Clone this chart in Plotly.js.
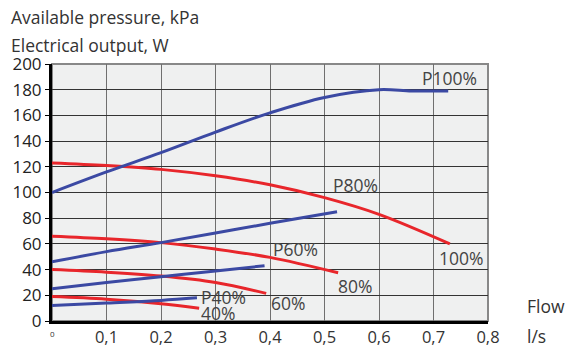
<!DOCTYPE html>
<html><head><meta charset="utf-8">
<script src="https://cdn.plot.ly/plotly-3.0.1.min.js"></script>
<style>html,body{margin:0;padding:0;background:#fff;}#c{width:569px;height:347px;}</style>
</head><body><div id="c"></div>
<script>
// Pressure curves (blue), flow l/s vs kPa
const p100x = [0, 0.1, 0.2, 0.3, 0.4, 0.5, 0.6, 0.66, 0.727];
const p100y = [100, 116, 131, 147, 162, 174, 180, 179, 179];
const p80x = [0, 0.1, 0.2, 0.3, 0.4, 0.523];
const p80y = [46, 54, 61, 68.5, 76, 85];
const p60x = [0, 0.1, 0.2, 0.3, 0.39];
const p60y = [25, 30, 34.5, 39, 43];
const p40x = [0, 0.1, 0.2, 0.266];
const p40y = [12, 14, 16, 18];
// Electrical output curves (red), W
const e100x = [0, 0.1, 0.2, 0.3, 0.4, 0.5, 0.6, 0.73];
const e100y = [123, 121, 118, 113, 106, 96, 83, 60];
const e80x = [0, 0.1, 0.2, 0.3, 0.4, 0.525];
const e80y = [66, 64, 61, 56, 49.5, 37.5];
const e60x = [0, 0.1, 0.2, 0.3, 0.393];
const e60y = [40, 38, 35, 30, 21.5];
const e40x = [0, 0.1, 0.2, 0.27];
const e40y = [19, 17, 13.5, 10];
// Curve labels
const labelText = ["P100%", "100%", "P80%", "80%", "P60%", "60%", "P40%", "40%"];
const labelX = [0.73, 0.752, 0.556, 0.556, 0.446, 0.433, 0.314, 0.305];
const labelY = [189, 49, 106, 27.5, 56, 14, 18.5, 6];
// Axis ticks
const xTickVals = [0, 0.1, 0.2, 0.3, 0.4, 0.5, 0.6, 0.7, 0.8];
const xTickText = ["", "0,1", "0,2", "0,3", "0,4", "0,5", "0,6", "0,7", "0,8"];
const yTickVals = [0, 20, 40, 60, 80, 100, 120, 140, 160, 180, 200];

const BLUE = "#3b49a3", RED = "#e8262b";
const FONT = "Open Sans, Noto Sans, sans-serif";
// plot area in pixels: left 52, right 488, top 64, bottom 321
const PL = 52, PW = 436, PB = 321, PH = 257;
const px = v => (v - PL) / PW, py = v => (PB - v) / PH;
function tr(x, y, c) {
  return {x: x, y: y, type: "scatter", mode: "lines", line: {color: c, width: 3, shape: "spline"}, hoverinfo: "skip", showlegend: false};
}
const data = [
  tr(e100x, e100y, RED), tr(e80x, e80y, RED), tr(e60x, e60y, RED), tr(e40x, e40y, RED),
  tr(p100x, p100y, BLUE), tr(p80x, p80y, BLUE), tr(p60x, p60y, BLUE), tr(p40x, p40y, BLUE)
];
const annotations = labelText.map((t, i) => ({
  x: labelX[i], y: labelY[i], xref: "x", yref: "y", text: t, showarrow: false,
  font: {family: FONT, size: 17.5, color: "#444"}
}));
annotations.push({x: 0, y: 0, xref: "x", yref: "y", text: "0", showarrow: false, yshift: -12, font: {family: FONT, size: 8, color: "#333"}});
const tf = {family: FONT, size: 17.5, color: "#333"};
annotations.push({x: px(9), y: py(17), xref: "paper", yref: "paper", xanchor: "left", yanchor: "middle", text: "Available pressure, kPa", showarrow: false, font: tf});
annotations.push({x: px(9), y: py(45), xref: "paper", yref: "paper", xanchor: "left", yanchor: "middle", text: "Electrical output, W", showarrow: false, font: tf});
annotations.push({x: px(546), y: py(306), xref: "paper", yref: "paper", xanchor: "center", yanchor: "middle", text: "Flow", showarrow: false, font: tf});
annotations.push({x: px(536), y: py(336), xref: "paper", yref: "paper", xanchor: "center", yanchor: "middle", text: "l/s", showarrow: false, font: tf});

const layout = {
  width: 569, height: 347,
  margin: {l: 52, r: 81, t: 64, b: 26, pad: 0},
  paper_bgcolor: "#fff", plot_bgcolor: "#eff0f0",
  xaxis: {range: [0, 0.8], tickvals: xTickVals, ticktext: xTickText, showgrid: true, gridcolor: "#6f6f6f", gridwidth: 1,
          zeroline: false, showline: true, linecolor: "#000", linewidth: 3, ticks: "", ticklabelstandoff: -1,
          tickfont: {family: FONT, size: 16.5, color: "#333"}, fixedrange: true},
  yaxis: {range: [0, 200], tickvals: yTickVals, showgrid: true, gridcolor: "#333", gridwidth: 1,
          zeroline: false, showline: true, linecolor: "#000", linewidth: 3, ticks: "outside", ticklen: 4, tickcolor: "#000", tickwidth: 1,
          tickfont: {family: FONT, size: 17, color: "#222"}, fixedrange: true},
  shapes: [{type: "rect", xref: "paper", yref: "paper", x0: 0, x1: 1, y0: 0, y1: 1, layer: "between", line: {color: "#888", width: 2}}],
  annotations: annotations,
  showlegend: false
};
Plotly.newPlot("c", data, layout, {staticPlot: true, displayModeBar: false});
</script></body></html>
